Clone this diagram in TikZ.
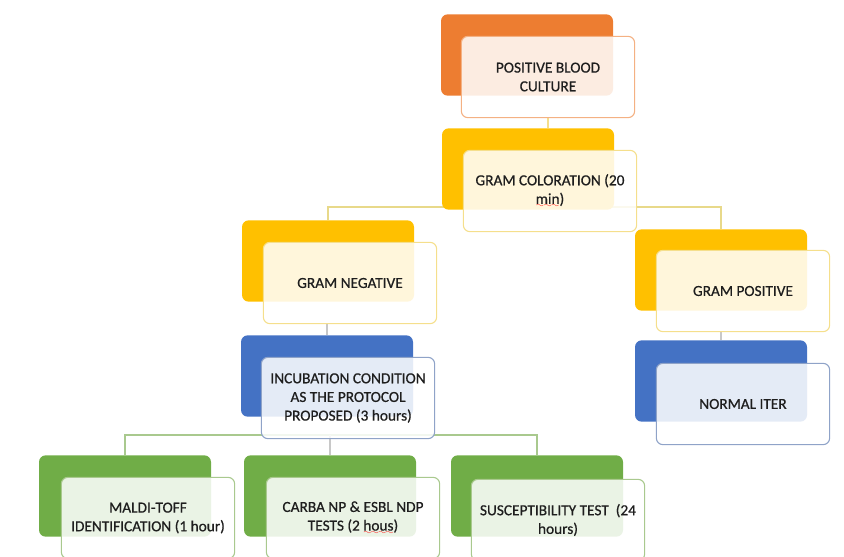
\documentclass[tikz,border=0pt]{standalone}
\usepackage{fontspec}
\setmainfont{Carlito}
\newfontfamily\boxfont{Carlito}[FakeBold=0.6]
\usepackage{tikz}
\usetikzlibrary{calc}

\definecolor{bkorange}{HTML}{ED7D31}
\definecolor{bkgold}{HTML}{FFC000}
\definecolor{bkblue}{HTML}{4472C4}
\definecolor{bkgreen}{HTML}{70AD47}
\definecolor{lnorange}{HTML}{F4B183}
\definecolor{lngold}{HTML}{F5DF8C}
\definecolor{lnblue}{HTML}{8FA3C8}
\definecolor{lngreen}{HTML}{A9C98E}
\definecolor{lnlink}{HTML}{E8D98A}
\definecolor{lngray}{HTML}{C8C8C8}
\definecolor{txtgray}{HTML}{1E1E1E}

% red wavy underline (spell check marks)
\font\wavyfont=lasy6
\newcommand{\spellwave}[1]{\setbox0\hbox{#1}\rlap{\textcolor{red}{\raisebox{-3pt}{\hbox to \wd0{\xleaders\hbox{\wavyfont\char58}\hfil}}}}\box0}

\pgfdeclarelayer{background}
\pgfsetlayers{background,main}

\tikzset{
  backbox/.style={rectangle, rounded corners=5pt, minimum width=129pt, minimum height=61pt, inner sep=0pt},
  frontbox/.style={rectangle, rounded corners=5pt, minimum width=130pt, minimum height=61pt, inner sep=0pt,
    fill=white, fill opacity=0.86, text opacity=1, line width=0.8pt, align=center,
    text=txtgray, font=\boxfont\fontsize{11.5}{14}\selectfont},
  link/.style={line width=0.8pt}
}

\begin{document}
\begin{tikzpicture}[x=0.75pt,y=0.75pt,yscale=-1,xscale=1]
    \useasboundingbox (0,0) rectangle (844,557);

    % Back Box
    \node [backbox, fill=bkorange] (back1) at (527,55) {};
    % Front Box
    \node [frontbox, draw=lnorange] (front1) at (548,77) {POSITIVE BLOOD\\CULTURE};

    % Back Box
    \node [backbox, fill=bkgold] (back2) at (528,169) {};
    % Front Box
    \node [frontbox, draw=lngold] (front2) at (550,191) {GRAM COLORATION (20\\\spellwave{min})};

    % Back Box
    \node [backbox, fill=bkgold] (back3) at (328,261) {};
    % Front Box
    \node [frontbox, draw=lngold] (front3) at (350,283) {GRAM NEGATIVE};

    % Back Box
    \node [backbox, fill=bkgold] (back4) at (721,270) {};
    % Front Box
    \node [frontbox, draw=lngold] (front4) at (743,291) {GRAM POSITIVE};

    % Back Box
    \node [backbox, fill=bkblue] (back5) at (721,381) {};
    % Front Box
    \node [frontbox, draw=lnblue] (front5) at (743,404) {NORMAL ITER};

    % Back Box
    \node [backbox, fill=bkblue] (back6) at (327,376) {};
    % Front Box
    \node [frontbox, draw=lnblue] (front6) at (348,398) {INCUBATION CONDITION\\AS THE PROTOCOL\\PROPOSED (3 hours)};

    % Back Box
    \node [backbox, fill=bkgreen] (back7) at (125,496) {};
    % Front Box
    \node [frontbox, draw=lngreen] (front7) at (148,518) {MALDI-TOFF\\IDENTIFICATION (1 hour)};

    % Back Box
    \node [backbox, fill=bkgreen] (back8) at (330,496) {};
    % Front Box
    \node [frontbox, draw=lngreen] (front8) at (353,518) {CARBA NP \& ESBL NDP\\TESTS (2 \spellwave{hous})};

    % Back Box
    \node [backbox, fill=bkgreen] (back9) at (537,496) {};
    % Front Box
    \node [frontbox, draw=lngreen] (front9) at (558,520) {SUSCEPTIBILITY TEST\ \ (24\\hours)};

    \begin{pgfonlayer}{background}
    % Connector
    \draw [link, draw=lngold] (front1.south) -- (front1.south |- back2.north);
    % Connector
    \coordinate (bus1) at (550,207);
    \draw [link, draw=lnlink] (back3.north) |- (bus1) -| (back4.north);
    % Connector
    \draw [link, draw=lngray] (front3.south -| back6.north) -- (back6.north);
    % Connector
    \draw [link, draw=lngray] (front4.south -| back5.north) -- (back5.north);
    % Connector
    \coordinate (bus2) at (348,435);
    \draw [link, draw=lngreen] (back7.north) |- (bus2) -| (back9.north);
    % Connector
    \draw [link, draw=lngray] (back8.north |- bus2) -- (back8.north);
    \end{pgfonlayer}
\end{tikzpicture}
\end{document}
